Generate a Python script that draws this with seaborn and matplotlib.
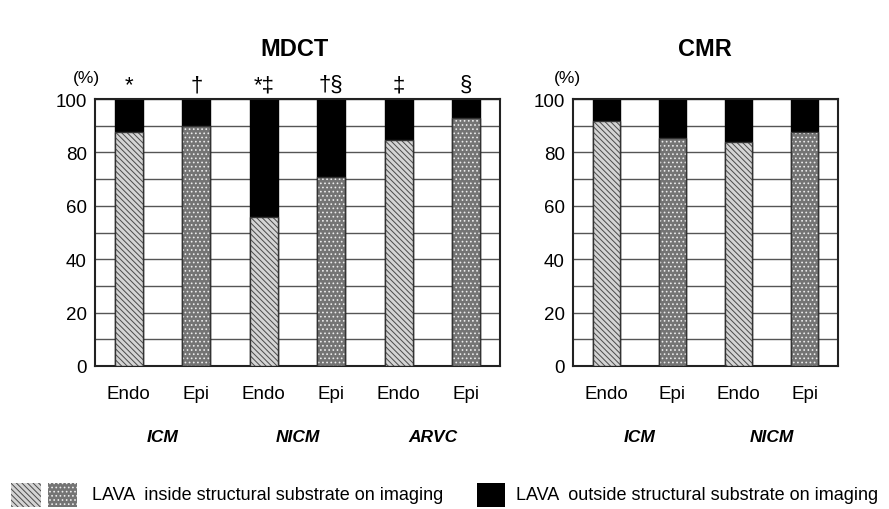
import matplotlib
matplotlib.use("Agg")
import matplotlib.pyplot as plt
from matplotlib.patches import Rectangle
import pandas as pd
import seaborn as sns

# ── data ─────────────────────────────────────────────────────────────────────
mdct_groups = ["ICM", "ICM", "NICM", "NICM", "ARVC", "ARVC"]
mdct_sites = ["Endo", "Epi", "Endo", "Epi", "Endo", "Epi"]
mdct_inside = [87.7, 89.8, 55.7, 70.7, 84.8, 92.8]
mdct_marks = ["*", "†", "*‡", "†§", "‡", "§"]

cmr_groups = ["ICM", "ICM", "NICM", "NICM"]
cmr_sites = ["Endo", "Epi", "Endo", "Epi"]
cmr_inside = [91.6, 85.5, 83.8, 87.5]

HATCH_FACE = {"Endo": "#d4d4d4", "Epi": "#747474"}
HATCH_LINE = {"Endo": "#4a4a4a", "Epi": "#ececec"}
HATCH_PAT = {"Endo": "\\\\\\\\\\\\", "Epi": "...."}

plt.rcParams["font.family"] = ["Liberation Sans", "DejaVu Sans"]
plt.rcParams["hatch.linewidth"] = 0.7


def draw_panel(ax, groups, sites, inside, marks=None):
    keys = [f"{g} {s}" for g, s in zip(groups, sites)]
    df = pd.DataFrame({"key": keys, "site": sites, "inside": inside})
    df["total"] = 100.0

    # black part = whole column, then the "inside" portion drawn over it
    sns.barplot(data=df, x="key", y="total", order=keys, color="black",
                width=0.41, edgecolor="black", linewidth=1, ax=ax, zorder=2)
    n_total = len(ax.patches)
    sns.barplot(data=df, x="key", y="inside", order=keys, color="white",
                width=0.41, ax=ax, zorder=3)
    for p, site in zip(ax.patches[n_total:], sites):
        p.set_facecolor(HATCH_FACE[site])
        p.set_edgecolor(HATCH_LINE[site])
        p.set_hatch(HATCH_PAT[site])
        p.set_linewidth(0)
        ax.add_patch(Rectangle(p.get_xy(), p.get_width(), p.get_height(),
                               fill=False, edgecolor="#333333", lw=1, zorder=4))

    ax.set_xlim(-0.5, len(keys) - 0.5)
    ax.set_ylim(0, 100)
    ax.set_yticks(range(0, 101, 20))
    ax.set_yticks(range(0, 101, 10), minor=True)
    ax.yaxis.grid(True, which="both", color="#555555", lw=1, zorder=0)
    ax.set_axisbelow(True)
    ax.tick_params(axis="y", which="both", length=0, labelsize=13.5, pad=6)
    ax.tick_params(axis="x", length=0, labelsize=13.5, pad=14)
    ax.set_xticks(range(len(keys)))
    ax.set_xticklabels(sites)
    ax.set_xlabel("")
    ax.set_ylabel("")
    for sp in ax.spines.values():
        sp.set_color("#222222")
        sp.set_linewidth(1.5)
    ax.text(-0.022, 1.08, "(%)", transform=ax.transAxes, ha="center",
            va="center", fontsize=12.5)

    # group labels under each pair
    for i in range(0, len(keys), 2):
        ax.text(i + 0.5, -0.265, groups[i], transform=ax.get_xaxis_transform(),
                ha="center", va="center", fontsize=12.5, fontweight="bold",
                fontstyle="italic")
    if marks:
        for i, m in enumerate(marks):
            ax.text(i, 101.5, m, ha="center", va="bottom", fontsize=16,
                    clip_on=False)


fig = plt.figure(figsize=(8.89, 5.10), dpi=100)
ax1 = fig.add_axes([0.1069, 0.2804, 0.4556, 0.5235])
ax2 = fig.add_axes([0.6445, 0.2804, 0.2981, 0.5235])

draw_panel(ax1, mdct_groups, mdct_sites, mdct_inside, mdct_marks)
draw_panel(ax2, cmr_groups, cmr_sites, cmr_inside)

fig.text(0.331, 0.902, "MDCT", ha="center", va="center", fontsize=17,
         fontweight="bold")
fig.text(0.793, 0.902, "CMR", ha="center", va="center", fontsize=17,
         fontweight="bold")

# legend row along the bottom
leg_y = 0.004
leg_h = 0.047
fig.patches.append(Rectangle((0.012, leg_y), 0.034, leg_h, transform=fig.transFigure,
                             facecolor=HATCH_FACE["Endo"], edgecolor=HATCH_LINE["Endo"],
                             hatch=HATCH_PAT["Endo"], lw=0))
fig.patches.append(Rectangle((0.054, leg_y), 0.033, leg_h, transform=fig.transFigure,
                             facecolor=HATCH_FACE["Epi"], edgecolor=HATCH_LINE["Epi"],
                             hatch=HATCH_PAT["Epi"], lw=0))
fig.patches.append(Rectangle((0.536, leg_y), 0.032, leg_h, transform=fig.transFigure,
                             facecolor="black", edgecolor="black", lw=0))
fig.text(0.104, leg_y + leg_h / 2, "LAVA  inside structural substrate on imaging",
         ha="left", va="center", fontsize=13)
fig.text(0.580, leg_y + leg_h / 2, "LAVA  outside structural substrate on imaging",
         ha="left", va="center", fontsize=13)

fig.savefig("out.png", dpi=100, facecolor="white")
